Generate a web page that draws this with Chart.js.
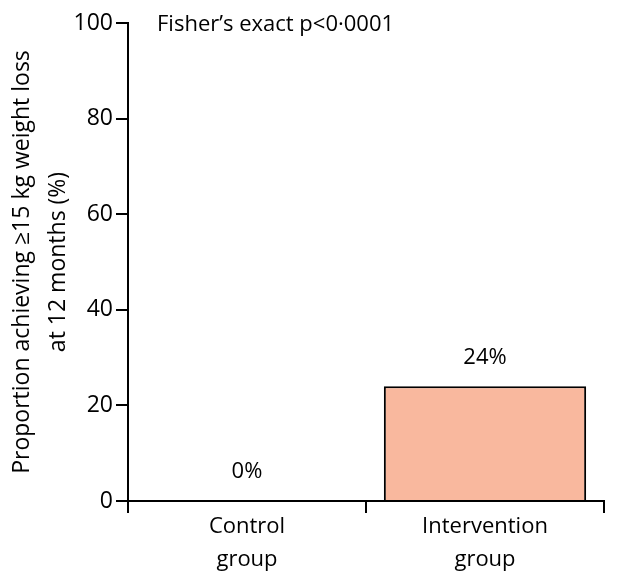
<!DOCTYPE html>
<html lang="en">
<head>
    <meta charset="UTF-8">
    <script src="https://cdn.jsdelivr.net/npm/chart.js"></script>
    <title>Weight loss</title>
    <style>
        body { margin: 0; background: #fff; }
        #caixa { width: 640px; height: 585px; position: relative; }
    </style>
</head>
<body>
    <div id="caixa"><canvas id="grafico"></canvas></div>
<script>
    // dados
    var grupos = [['Control', 'group'], ['Intervention', 'group']]
    var proporcao = [0, 24]
    var rotulos = ['0%', '24%']
    var ticksY = [0, 20, 40, 60, 80, 100]
    var tituloY = ['Proportion achieving \u226515 kg weight loss', 'at 12 months (%)']
    var nota = 'Fisher\u2019s exact p<0\u00b70001'

    var fonte = '"Open Sans", sans-serif'

    // escreve o valor em cima de cada barra e a nota do teste
    var textos = {
        id: 'textos',
        afterDatasetsDraw: function (chart) {
            var ctx = chart.ctx
            var meta = chart.getDatasetMeta(0)
            ctx.save()
            ctx.fillStyle = '#000'
            ctx.font = '22px ' + fonte
            ctx.textAlign = 'center'
            ctx.textBaseline = 'middle'
            meta.data.forEach(function (barra, i) {
                ctx.fillText(rotulos[i], barra.x, barra.y - 29)
            })
            ctx.textAlign = 'left'
            ctx.fillText(nota, chart.chartArea.left + 29, chart.chartArea.top + 2)
            ctx.restore()
        }
    }

    new Chart(document.getElementById('grafico'), {
        type: 'bar',
        data: {
            labels: grupos,
            datasets: [{
                data: proporcao,
                backgroundColor: '#F9B89E',
                borderColor: '#000',
                borderWidth: 2,
                borderSkipped: 'bottom',
                categoryPercentage: 1,
                barPercentage: 0.85
            }]
        },
        options: {
            responsive: true,
            maintainAspectRatio: false,
            animation: false,
            layout: { padding: { top: 23, right: 36, left: 0, bottom: 0 } },
            plugins: { legend: { display: false }, tooltip: { enabled: false } },
            scales: {
                x: {
                    offset: true,
                    grid: { display: true, offset: true, drawOnChartArea: false, drawTicks: true, tickLength: 12, color: '#000', lineWidth: 2 },
                    border: { display: true, color: '#000', width: 2 },
                    ticks: { color: '#000', font: { family: fonte, size: 22, lineHeight: 1.5 }, padding: -3, maxRotation: 0 },
                    afterFit: function (scale) { scale.height = 84 }
                },
                y: {
                    min: 0,
                    max: 100,
                    afterBuildTicks: function (scale) {
                        scale.ticks = ticksY.map(function (v) { return { value: v } })
                    },
                    grid: { display: true, drawOnChartArea: false, drawTicks: true, tickLength: 12, color: '#000', lineWidth: 2 },
                    border: { display: true, color: '#000', width: 2 },
                    ticks: { color: '#000', font: { family: fonte, size: 23 }, padding: 3 },
                    title: {
                        display: true,
                        text: tituloY,
                        color: '#000',
                        font: { family: fonte, size: 23, lineHeight: 1.57 },
                        padding: { top: 4, bottom: 0 }
                    },
                    afterFit: function (scale) { scale.width = 128 }
                }
            }
        },
        plugins: [textos]
    })
</script>
</body>
</html>
